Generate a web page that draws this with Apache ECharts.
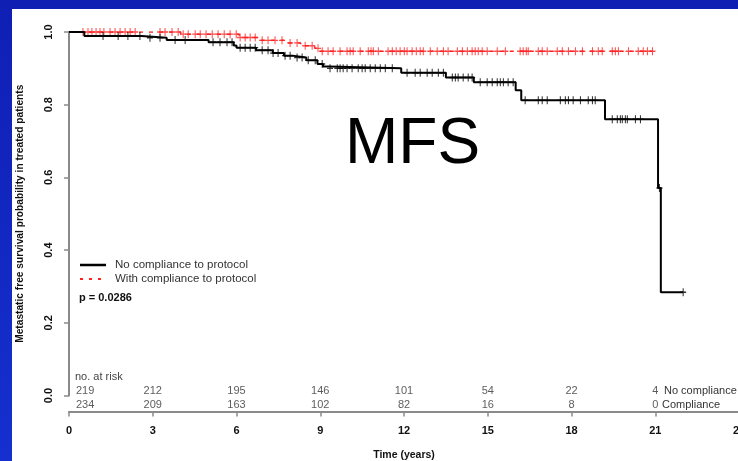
<!DOCTYPE html>
<html>
<head>
<meta charset="utf-8">
<script src="https://cdn.jsdelivr.net/npm/echarts@6/dist/echarts.min.js"></script>
<style>
  html, body { margin: 0; padding: 0; background: #1228c0; }
  #chart { width: 738px; height: 461px; }
</style>
</head>
<body>
<div id="chart"></div>
<script>
// Kaplan-Meier steps: [time in years, survival probability]
const noComplianceSteps = [
  [0, 1.0], [0.55, 0.989], [2.6, 0.984], [3.5, 0.978], [5.0, 0.972],
  [5.9, 0.963], [6.0, 0.957], [6.7, 0.950], [7.3, 0.942], [7.7, 0.935],
  [8.0, 0.930], [8.5, 0.922], [8.9, 0.912], [9.1, 0.905], [9.3, 0.900],
  [11.9, 0.888], [13.5, 0.875], [14.5, 0.862], [16.0, 0.840], [16.2, 0.812],
  [19.2, 0.760], [21.1, 0.571], [21.2, 0.284], [22.0, 0.284]
];
const complianceSteps = [
  [0, 1.0], [4.0, 0.994], [6.1, 0.985], [6.8, 0.977], [7.7, 0.970],
  [8.3, 0.962], [8.8, 0.955], [9.0, 0.947], [20.9, 0.947]
];

// Censoring times (years)
const noComplianceCensored = [
  1.22, 1.76, 2.11, 2.54, 2.9, 3.26, 3.8, 4.16,
  5.16, 5.41, 5.66, 5.84, 6.13, 6.31, 6.49, 6.67, 6.92, 7.13, 7.31, 7.49,
  7.74, 7.92, 8.17, 8.35, 8.57, 8.82, 9.07,
  9.35, 9.61, 9.71, 9.82, 9.96, 10.14, 10.36, 10.5, 10.61, 10.79, 10.97, 11.15, 11.33, 11.58,
  12.11, 12.4, 12.58, 12.83, 13.01, 13.23, 13.41,
  13.73, 13.84, 13.94, 14.12, 14.3, 14.44,
  14.73, 14.98, 15.16, 15.34, 15.45, 15.56, 15.73, 15.91,
  16.34, 16.81, 16.95, 17.13, 17.6, 17.78, 17.89, 18.06, 18.32, 18.6, 18.75, 18.85,
  19.46, 19.64, 19.75, 19.82, 19.93, 20.0, 20.29, 20.47, 21.15, 22.0
];
const complianceCensored = [
  0.5, 0.68, 0.82, 0.97, 1.11, 1.25, 1.47, 1.65, 1.83, 2.01, 2.19, 2.37,
  3.26, 3.44, 3.69, 3.91, 4.09, 4.27, 4.52, 4.7, 4.91, 5.13, 5.34, 5.56, 5.77, 5.99, 6.13,
  6.31, 6.49, 6.67, 6.92, 7.13, 7.38, 7.63, 7.92, 8.17, 8.46, 8.71, 8.92,
  9.07, 9.28, 9.46, 9.71, 9.96, 10.07, 10.18, 10.43, 10.72, 10.82, 10.9, 11.08,
  11.43, 11.58, 11.72, 11.86, 12.01, 12.11, 12.29, 12.44, 12.58, 12.69, 12.94,
  13.19, 13.41, 13.58, 13.91, 14.09, 14.27, 14.44, 14.55, 14.66, 14.8, 14.98,
  15.34, 15.63, 16.16, 16.27, 16.38, 16.45, 16.81, 16.95, 17.13, 17.49, 17.67,
  17.89, 18.14, 18.39, 18.75, 18.96, 19.1, 19.46, 19.57, 19.68, 20.04, 20.39,
  20.57, 20.72, 20.9
];

// Number at risk table
const riskTimes = [0, 3, 6, 9, 12, 15, 18, 21];
const riskNoCompliance = [219, 212, 195, 146, 101, 54, 22, 4];
const riskCompliance = [234, 209, 163, 102, 82, 16, 8, 0];
const riskRows = ['No compliance', 'Compliance'];

const xTicks = [0, 3, 6, 9, 12, 15, 18, 21, 24];
const yTicks = [0, 0.2, 0.4, 0.6, 0.8, 1.0];

function survivalAt(steps, t) {
  let s = steps[0][1];
  for (const [ti, si] of steps) {
    if (ti <= t) s = si; else break;
  }
  return s;
}

const plusSymbol = 'path://M0,-4L0,4M-3,0L3,0';
const FONT = '"Liberation Sans", Arial, sans-serif';

const riskData = (counts, row) => counts.map((n, i) => {
  const item = { value: [riskTimes[i], row], name: String(n) };
  if (i === 0) item.label = { align: 'left', offset: [7, 0] };
  return item;
});

const chart = echarts.init(document.getElementById('chart'), null, { renderer: 'canvas' });

chart.setOption({
  animation: false,
  backgroundColor: 'transparent',
  textStyle: { fontFamily: FONT },
  graphic: [
    {
      type: 'rect', z: -100, silent: true,
      shape: { x: 0, y: 0, width: 738, height: 461 },
      style: {
        fill: new echarts.graphic.LinearGradient(0, 0, 0, 1, [
          { offset: 0, color: '#0f1fb4' },
          { offset: 1, color: '#1530cf' }
        ])
      }
    },
    {
      type: 'rect', z: -90, silent: true,
      shape: { x: 12, y: 9, width: 726, height: 452 },
      style: { fill: '#ffffff' }
    },
    {
      type: 'text', z: 50,
      style: { x: 345, y: 145, text: 'MFS', font: '64px ' + FONT, fill: '#000', textVerticalAlign: 'middle' }
    },
    // legend
    { type: 'line', z: 50, shape: { x1: 80, y1: 265, x2: 106, y2: 265 }, style: { stroke: '#000', lineWidth: 2.5 } },
    { type: 'text', z: 50, style: { x: 115, y: 265, text: 'No compliance to protocol', font: '11.5px ' + FONT, fill: '#333', textVerticalAlign: 'middle' } },
    { type: 'line', z: 50, shape: { x1: 80, y1: 279, x2: 104, y2: 279 }, style: { stroke: '#ff2020', lineWidth: 2, lineDash: [3, 6] } },
    { type: 'text', z: 50, style: { x: 115, y: 279, text: 'With compliance to protocol', font: '11.5px ' + FONT, fill: '#333', textVerticalAlign: 'middle' } },
    { type: 'text', z: 50, style: { x: 79, y: 298, text: 'p = 0.0286', font: 'bold 11px ' + FONT, fill: '#111', textVerticalAlign: 'middle' } },
    // risk table captions
    { type: 'text', z: 50, style: { x: 75, y: 377, text: 'no. at risk', font: '11px ' + FONT, fill: '#444', textVerticalAlign: 'middle' } },
    { type: 'text', z: 50, style: { x: 664, y: 391, text: riskRows[0], font: '11px ' + FONT, fill: '#333', textVerticalAlign: 'middle' } },
    { type: 'text', z: 50, style: { x: 662, y: 405, text: riskRows[1], font: '11px ' + FONT, fill: '#333', textVerticalAlign: 'middle' } }
  ],
  grid: [
    { left: 69, top: 32, width: 670, height: 363.5, containLabel: false, outerBoundsMode: 'none' },
    { left: 69, top: 384, width: 670, height: 28, containLabel: false, outerBoundsMode: 'none' }
  ],
  xAxis: [
    {
      gridIndex: 0, type: 'value', min: 0, max: 24, interval: 3,
      offset: 16,
      name: 'Time (years)', nameLocation: 'middle', nameGap: 38,
      nameTextStyle: { fontFamily: FONT, fontWeight: 'bold', fontSize: 10.5, color: '#111' },
      axisLine: { show: true, onZero: false, lineStyle: { color: '#8a8a8a', width: 2 } },
      axisTick: { show: true, length: 5, lineStyle: { color: '#8a8a8a', width: 1.5 } },
      axisLabel: {
        margin: 14, fontFamily: FONT, fontWeight: 'bold', fontSize: 11, color: '#111',
        showMaxLabel: true, formatter: v => xTicks.includes(v) ? String(v) : ''
      },
      splitLine: { show: false }
    },
    {
      gridIndex: 1, type: 'value', min: 0, max: 24, show: false
    }
  ],
  yAxis: [
    {
      gridIndex: 0, type: 'value', min: 0, max: 1, interval: 0.2,
      name: 'Metastatic free survival probability in treated patients',
      nameLocation: 'middle', nameGap: 44, nameRotate: 90,
      nameTextStyle: { fontFamily: FONT, fontWeight: 'bold', fontSize: 10.2, color: '#111' },
      axisLine: { show: true, onZero: false, lineStyle: { color: '#8a8a8a', width: 2 } },
      axisTick: { show: true, length: 5, lineStyle: { color: '#8a8a8a', width: 1.5 } },
      axisLabel: {
        rotate: 90, margin: 15, fontFamily: FONT, fontWeight: 'bold', fontSize: 11, color: '#111',
        formatter: v => yTicks.some(t => Math.abs(t - v) < 1e-9) ? v.toFixed(1) : ''
      },
      splitLine: { show: false }
    },
    {
      gridIndex: 1, type: 'category', data: riskRows, inverse: true, show: false
    }
  ],
  series: [
    {
      name: 'With compliance to protocol', type: 'line', step: 'end',
      xAxisIndex: 0, yAxisIndex: 0, z: 3,
      data: complianceSteps, showSymbol: false,
      lineStyle: { color: '#ff2020', width: 1.5, type: [4, 6] }
    },
    {
      name: 'With compliance censored', type: 'scatter',
      xAxisIndex: 0, yAxisIndex: 0, z: 4,
      data: complianceCensored.map(t => [t, survivalAt(complianceSteps, t)]),
      symbol: plusSymbol, symbolSize: [6, 8],
      itemStyle: { color: 'transparent', borderColor: '#ff2020', borderWidth: 1.2 }
    },
    {
      name: 'No compliance to protocol', type: 'line', step: 'end',
      xAxisIndex: 0, yAxisIndex: 0, z: 5,
      data: noComplianceSteps, showSymbol: false,
      lineStyle: { color: '#000', width: 2 }
    },
    {
      name: 'No compliance censored', type: 'scatter',
      xAxisIndex: 0, yAxisIndex: 0, z: 6,
      data: noComplianceCensored.map(t => [t, survivalAt(noComplianceSteps, t)]),
      symbol: plusSymbol, symbolSize: [6, 8],
      itemStyle: { color: 'transparent', borderColor: '#000', borderWidth: 1.2 }
    },
    {
      name: 'At risk: no compliance', type: 'scatter',
      xAxisIndex: 1, yAxisIndex: 1, symbolSize: 0,
      data: riskData(riskNoCompliance, riskRows[0]),
      label: { show: true, position: 'inside', formatter: p => p.name, fontFamily: FONT, fontSize: 11, color: '#333' }
    },
    {
      name: 'At risk: compliance', type: 'scatter',
      xAxisIndex: 1, yAxisIndex: 1, symbolSize: 0,
      data: riskData(riskCompliance, riskRows[1]),
      label: { show: true, position: 'inside', formatter: p => p.name, fontFamily: FONT, fontSize: 11, color: '#333' }
    }
  ]
});
</script>
</body>
</html>
